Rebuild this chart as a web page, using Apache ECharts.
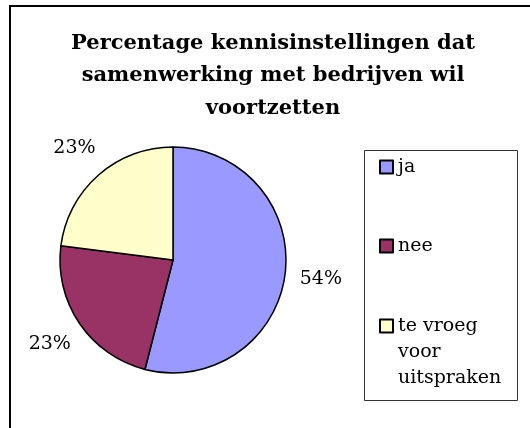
<!DOCTYPE html>
<html style="height: 100%">
  <head>
    <meta charset="utf-8">
  </head>
  <body style="height: 100%; margin: 0; background: #fff">
    <div id="container" style="width: 530px; height: 428px"></div>
    <script src="https://cdn.jsdelivr.net/npm/echarts@6/dist/echarts.min.js"></script>
    <script type="text/javascript">
// data
var names = ['ja', 'nee', 'te vroeg voor uitspraken'];
var legendText = ['ja', 'nee', '\n\nte vroeg\nvoor\nuitspraken'];
var percent = [54, 23, 23];
var colors = ['#9999FF', '#993366', '#FFFFCC'];

var chart = echarts.init(document.getElementById('container'));

var pieData = names.map(function (n, i) {
  return { name: n, value: percent[i], itemStyle: { color: colors[i] } };
});
var labelData = names.map(function (n, i) {
  return { name: n, value: percent[i] };
});

var legendTops = [154, 233, 261];
var legends = names.map(function (n, i) {
  return {
    orient: 'vertical',
    left: 379,
    top: legendTops[i],
    padding: 0,
    icon: 'rect',
    itemWidth: 13,
    itemHeight: 13,
    selectedMode: false,
    data: [n],
    formatter: function () { return legendText[i]; },
    textStyle: { fontFamily: 'DejaVu Serif', fontSize: 19, lineHeight: 26, color: '#000' }
  };
});

var option = {
  animation: false,
  backgroundColor: '#fff',
  title: {
    text: 'Percentage kennisinstellingen dat\nsamenwerking met bedrijven wil\nvoortzetten',
    left: 273,
    top: 27,
    padding: 0,
    textAlign: 'center',
    textStyle: { fontFamily: 'DejaVu Serif', fontWeight: 'bold', fontSize: 21, lineHeight: 32.5, color: '#000' }
  },
  legend: legends,
  graphic: [
    { type: 'rect', shape: { x: 10, y: 6, width: 600, height: 500 },
      style: { fill: 'none', stroke: '#000', lineWidth: 2 }, silent: true },
    { type: 'rect', shape: { x: 364.5, y: 150.5, width: 153, height: 250 },
      style: { fill: 'none', stroke: '#333', lineWidth: 1 }, silent: true }
  ],
  series: [
    {
      type: 'pie',
      center: [173, 260],
      radius: 113,
      startAngle: 90,
      clockwise: true,
      label: { show: false },
      labelLine: { show: false },
      itemStyle: { borderColor: '#000', borderWidth: 1.5 },
      emphasis: { disabled: true },
      data: pieData
    },
    {
      // transparent ring only used to place centered percentage labels
      type: 'pie',
      center: [173, 260],
      radius: [136, 156],
      startAngle: 90,
      clockwise: true,
      silent: true,
      itemStyle: { color: 'transparent', borderWidth: 0 },
      label: {
        show: true,
        position: 'inside',
        formatter: '{c}%',
        fontFamily: 'DejaVu Serif',
        fontSize: 19,
        color: '#000'
      },
      labelLine: { show: false },
      emphasis: { disabled: true },
      data: labelData
    }
  ]
};

chart.setOption(option);
    </script>
  </body>
</html>
